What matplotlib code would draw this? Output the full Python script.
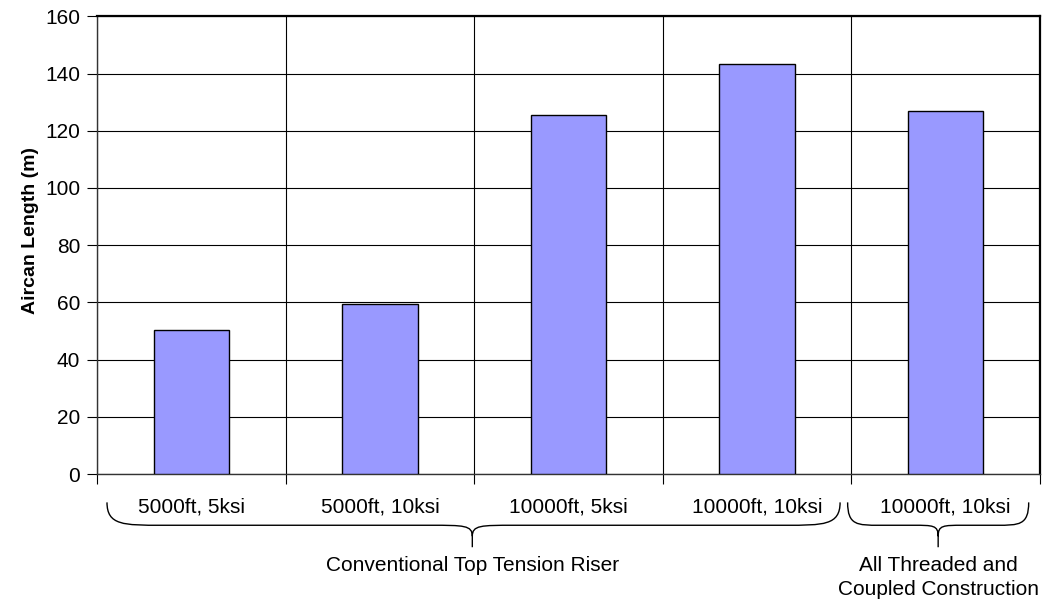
"""
Aircan length bar chart with grouped category braces
"""

import matplotlib
matplotlib.use('Agg')
import matplotlib.pyplot as plt
from matplotlib.path import Path
from matplotlib.patches import PathPatch
from matplotlib.transforms import blended_transform_factory

plt.rcParams['font.family'] = ['Liberation Sans', 'DejaVu Sans']

# data
categories = ['5000ft, 5ksi', '5000ft, 10ksi', '10000ft, 5ksi',
              '10000ft, 10ksi', '10000ft, 10ksi']
lengths = [50.4, 59.4, 125.5, 143.2, 126.8]
groups = ['Conventional Top Tension Riser',
          'All Threaded and\nCoupled Construction']

BAR_COLOR = '#9999FF'
FS = 15


def draw_brace(ax, x0, x1, xtip, end_w, mid_w, y_top, y_mid, y_tip):
    """Curly brace, x in data units, y in axes fraction"""
    trans = blended_transform_factory(ax.transData, ax.transAxes)
    y_knee = y_mid - (y_mid - y_tip) * 0.5
    verts = [
        (x0, y_top),
        (x0, y_mid), (x0 + end_w * 0.3, y_mid), (x0 + end_w, y_mid),
        (xtip - mid_w, y_mid),
        (xtip - mid_w * 0.2, y_mid), (xtip, y_mid), (xtip, y_knee),
        (xtip, y_tip),
        (xtip, y_knee),
        (xtip, y_mid), (xtip + mid_w * 0.2, y_mid), (xtip + mid_w, y_mid),
        (x1 - end_w, y_mid),
        (x1 - end_w * 0.3, y_mid), (x1, y_mid), (x1, y_top),
    ]
    codes = [Path.MOVETO,
             Path.CURVE4, Path.CURVE4, Path.CURVE4,
             Path.LINETO,
             Path.CURVE4, Path.CURVE4, Path.CURVE4,
             Path.LINETO,
             Path.MOVETO,
             Path.CURVE4, Path.CURVE4, Path.CURVE4,
             Path.LINETO,
             Path.CURVE4, Path.CURVE4, Path.CURVE4]
    patch = PathPatch(Path(verts, codes), transform=trans, facecolor='none',
                      edgecolor='black', lw=1.0, clip_on=False)
    ax.add_patch(patch)


fig = plt.figure(figsize=(10.5, 6.05), dpi=100)
ax = fig.add_axes([97 / 1050, 1 - 474 / 605, 943 / 1050, 457.7 / 605])

x = list(range(len(categories)))
ax.bar(x, lengths, width=0.4, color=BAR_COLOR, edgecolor='black',
       linewidth=1.0, zorder=3)

ax.set_xlim(-0.5, len(categories) - 0.5)
ax.set_ylim(0, 160)
ax.set_yticks(range(0, 161, 20))
ax.tick_params(axis='y', labelsize=FS, length=7, width=0.8, direction='out',
               pad=5)

# boundaries as major ticks, category names as minor tick labels
ax.set_xticks([i - 0.5 for i in range(len(categories) + 1)])
ax.set_xticklabels([])
ax.set_xticks(x, minor=True)
ax.set_xticklabels(categories, minor=True)
ax.tick_params(axis='x', which='major', length=7, width=0.8, direction='out')
ax.tick_params(axis='x', which='minor', length=0, pad=17, labelsize=FS)

ax.grid(True, which='major', color='black', linewidth=0.8, zorder=0)
ax.set_axisbelow(True)
for side in ['top', 'right']:
    ax.spines[side].set_linewidth(1.6)
for side in ['left', 'bottom']:
    ax.spines[side].set_linewidth(1.0)
    ax.spines[side].set_color('#333333')

ax.set_ylabel('Aircan Length (m)', fontsize=14, fontweight='bold')
ax.yaxis.set_label_coords(-0.062, 0.531)

# group braces
px = 943 / 5  # pixels per category
draw_brace(ax, -0.447, 3.44, 1.49, 55 / px, 42 / px,
           -0.062, -0.112, -0.160)
draw_brace(ax, 3.48, 4.44, 3.96, 32 / px, 25 / px,
           -0.062, -0.112, -0.160)

trans = blended_transform_factory(ax.transData, ax.transAxes)
ax.text(1.49, -0.18, groups[0], transform=trans, ha='center', va='top',
        fontsize=FS)
ax.text(3.96, -0.18, groups[1], transform=trans, ha='center', va='top',
        fontsize=FS, linespacing=1.3)

fig.savefig('out.png', dpi=100)
